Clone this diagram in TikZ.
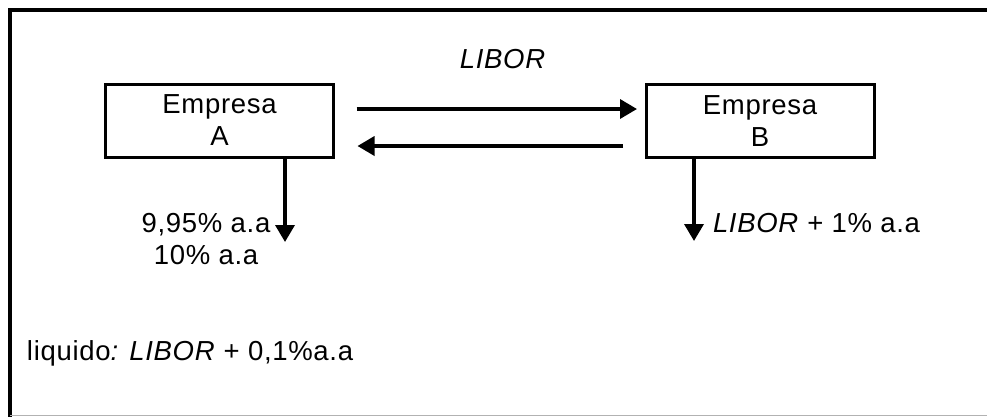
\documentclass[tikz,border=0pt]{standalone}
\usepackage{fontspec}
\setmainfont[LetterSpace=2.5]{Liberation Sans}
\usetikzlibrary{arrows.meta,calc}
\tikzset{
  box/.style={draw, line width=3pt, minimum width=228, minimum height=73, align=center, inner sep=0pt, outer sep=0pt, font=\fontsize{27.5}{32}\selectfont},
  txt/.style={inner sep=0pt, outer sep=0pt, align=center, font=\fontsize{27.5}{32}\selectfont},
  arr/.style={line width=3.5pt, -{Triangle[length=17pt,width=19pt]}},
  frame/.style={line width=3.5pt}
}
\begin{document}
\begin{tikzpicture}[x=1pt,y=-1pt]
\useasboundingbox (0,0) rectangle (987,416);
% outer frame (cropped on right and bottom)
\draw[frame] (10,420) -- (10,10) -- (995,10);
\draw[black!30, line width=1.2pt] (10,415.4) -- (995,415.4);
% boxes
\node[box] (A) at (219.5,120.5) {Empresa\\A};
\node[box] (B) at (760,121) {Empresa\\B};
% horizontal arrows
\draw[arr] ($(A.east)+(23,-11.5)$) -- ($(B.west)+(-9,-12)$);
\draw[arr] ($(B.west)+(-23,25)$) -- ($(A.east)+(24,25.5)$);
\node[txt, font=\fontsize{27.5}{32}\selectfont\itshape] (libor) at (502.5,59) {LIBOR};
% vertical arrows
\coordinate (endA) at (285,242);
\coordinate (endB) at (694,241);
\draw[arr] (A.south -| endA) -- (endA);
\draw[arr] (B.south -| endB) -- (endB);
% labels
\node[txt] (ta) at (206,239) {9,95\% a.a\\10\% a.a};
\node[txt, anchor=west] (tb) at (713,223) {\textit{LIBOR} + 1\% a.a};
\node[txt, anchor=west] (liq) at (27,353) {liquido\textit{: LIBOR} + 0,1\%a.a};
\end{tikzpicture}
\end{document}
